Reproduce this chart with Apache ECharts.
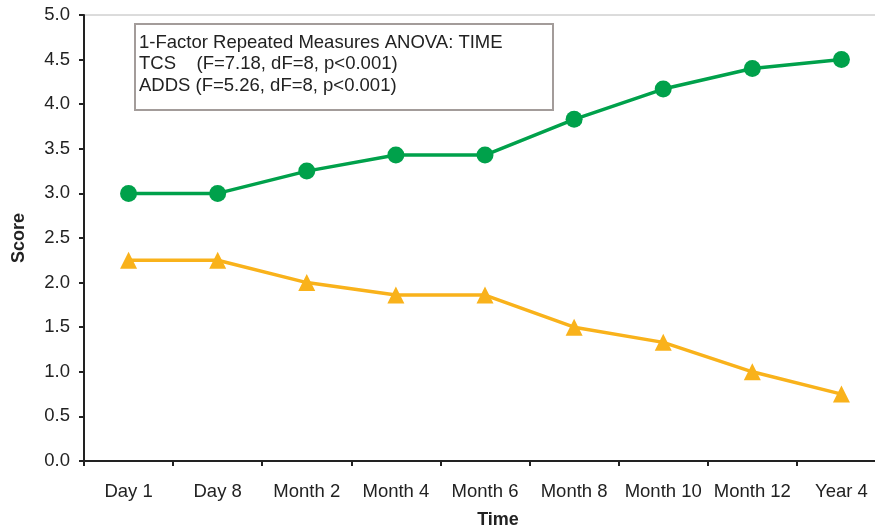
<!DOCTYPE html>
<html>
<head>
<meta charset="utf-8">
<script src="https://cdn.jsdelivr.net/npm/echarts@6/dist/echarts.min.js"></script>
<style>
html,body{margin:0;padding:0;background:#fff;}
#chart{width:875px;height:527px;}
</style>
</head>
<body>
<div id="chart"></div>
<script>
const categories = ["Day 1","Day 8","Month 2","Month 4","Month 6","Month 8","Month 10","Month 12","Year 4"];
const tcsValues = [3.0, 3.0, 3.25, 3.43, 3.43, 3.83, 4.17, 4.4, 4.5];
const addsValues = [2.25, 2.25, 2.0, 1.86, 1.86, 1.5, 1.33, 1.0, 0.75];
const yTicks = [0, 0.5, 1.0, 1.5, 2.0, 2.5, 3.0, 3.5, 4.0, 4.5, 5.0];
const annotationLines = [
  "1-Factor Repeated Measures ANOVA: TIME",
  "TCS    (F=7.18, dF=8, p<0.001)",
  "ADDS (F=5.26, dF=8, p<0.001)"
];

const chart = echarts.init(document.getElementById('chart'), null, {renderer:'canvas'});
const font = 'Liberation Sans, Arial, sans-serif';
chart.setOption({
  animation: false,
  backgroundColor: '#fff',
  grid: {left: 84, top: 15, right: -11, bottom: 66, show: true, borderColor: '#b8b8b8', borderWidth: 1,
         containLabel: false, outerBoundsMode: 'none'},
  xAxis: {
    type: 'category',
    data: categories,
    boundaryGap: true,
    name: 'Time',
    nameLocation: 'middle',
    nameGap: 50,
    nameTextStyle: {fontFamily: font, fontSize: 18, fontWeight: 'bold', color: '#222', padding: [0,0,0,26]},
    axisLine: {lineStyle: {color: '#222', width: 2}},
    axisTick: {show: true, length: 5, interval: 0, alignWithLabel: false, lineStyle: {color: '#222', width: 2}},
    axisLabel: {fontFamily: font, fontSize: 18.5, color: '#222', margin: 21, interval: 0, hideOverlap: false},
    splitLine: {show: false}
  },
  yAxis: {
    type: 'value',
    min: yTicks[0],
    max: yTicks[yTicks.length-1],
    interval: 0.5,
    name: 'Score',
    nameLocation: 'middle',
    nameGap: 56,
    nameRotate: 90,
    nameTextStyle: {fontFamily: font, fontSize: 18, fontWeight: 'bold', color: '#222'},
    axisLine: {show: true, lineStyle: {color: '#222', width: 2}},
    axisTick: {show: true, length: 5, lineStyle: {color: '#222', width: 2}},
    axisLabel: {fontFamily: font, fontSize: 18.5, color: '#222', margin: 14, formatter: v => v.toFixed(1)},
    splitLine: {show: false}
  },
  series: [
    {
      name: 'TCS', type: 'line', data: tcsValues,
      symbol: 'circle', symbolSize: 17,
      lineStyle: {color: '#00A14B', width: 3.5},
      itemStyle: {color: '#00A14B'}
    },
    {
      name: 'ADDS', type: 'line', data: addsValues,
      symbol: 'triangle', symbolSize: 17,
      lineStyle: {color: '#F9B21B', width: 3.5},
      itemStyle: {color: '#F9B21B'}
    }
  ],
  graphic: [
    {type: 'rect', shape: {x: 135, y: 24, width: 418, height: 86},
     style: {fill: '#fff', stroke: '#a39c9a', lineWidth: 2}, z: 10},
    {type: 'text', left: 139, top: 32, z: 11,
     style: {text: annotationLines.join('\n'), fontFamily: font, fontSize: 18.5, lineHeight: 21.5, fill: '#222'}}
  ]
});
</script>
</body>
</html>
